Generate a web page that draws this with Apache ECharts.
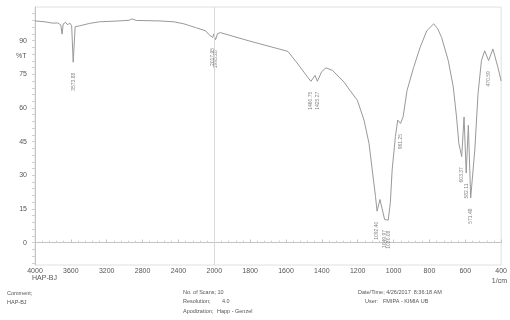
<!DOCTYPE html>
<html>
<head>
<meta charset="utf-8">
<script src="https://cdn.jsdelivr.net/npm/echarts@6/dist/echarts.min.js"></script>
<style>
  html, body { margin: 0; padding: 0; background: #fff; }
  #chart { width: 510px; height: 320px; }
</style>
</head>
<body>
<div id="chart"></div>
<script>
// FTIR spectrum HAP-BJ
const wavenumber = [4000, 3889, 3801, 3746, 3712, 3698, 3685, 3657, 3635, 3613,
  3591, 3574, 3552, 3502, 3391, 3281, 3060, 2949, 2916, 2871,
  2617, 2451, 2340, 2208, 2097, 2064, 2018, 2005, 1993, 1982,
  1967, 1811, 1589, 1534, 1479, 1461, 1438, 1425, 1401, 1377,
  1340, 1276, 1257, 1202, 1165, 1137, 1119, 1101, 1092, 1076,
  1050, 1041, 1030, 1018, 1008, 990, 977, 966, 961, 947,
  925, 888, 852, 815, 776, 754, 732, 695, 667, 649,
  636, 620, 607, 595, 583, 570, 547, 529, 510, 492,
  483, 470, 446, 418, 400];
const transmittance = [98.8, 98.4, 97.8, 97.9, 97.0, 92.9, 97.5, 98.1, 97.0, 97.9,
  96.6, 80.4, 96.2, 96.6, 97.7, 98.4, 98.8, 99.1, 99.7, 99.0,
  98.8, 98.4, 97.5, 95.8, 94.4, 92.9, 91.4, 93.0, 90.4, 93.1,
  93.6, 90.0, 85.2, 79.6, 73.7, 71.9, 74.5, 71.9, 76.2, 77.9,
  76.7, 71.5, 69.3, 63.4, 54.6, 44.2, 32.4, 20.6, 14.0, 19.2,
  10.3, 11.0, 10.0, 17.8, 32.4, 47.2, 54.6, 55.3, 53.1, 56.0,
  67.8, 78.1, 87.0, 94.4, 97.5, 95.3, 91.4, 81.1, 69.3, 56.0,
  44.2, 38.3, 56.0, 31.0, 52.3, 19.9, 41.3, 66.4, 81.1, 85.5,
  86.3, 81.1, 86.3, 78.1, 72.0];

const peakWn = [3574, 2018, 1993, 1461, 1425, 1092, 1050, 1030, 961, 620, 595, 570, 470];
const peakT = [80.4, 91.4, 90.4, 71.9, 71.9, 14.0, 10.3, 10.0, 53.1, 38.3, 31.0, 19.9, 81.1];
const peakText = ["3573.88", "2017.95", "1993.28", "1460.75", "1425.27", "1092.40", "1049.97",
  "1030.08", "961.25", "603.37", "582.11", "571.48", "470.59"];

const xTickLabels = [4000, 3600, 3200, 2800, 2400, 2000, 1800, 1600, 1400, 1200, 1000, 800, 600, 400];
const yTickLabels = [0, 15, 30, 45, 60, 75, 90];
const yMinorTicks = [-9, -6, -3, 0, 3, 6, 9, 12, 15, 18, 21, 24, 27, 30, 33, 36, 39, 42, 45, 48, 51,
  54, 57, 60, 63, 66, 69, 72, 75, 78, 81, 84, 87, 90, 93, 96, 99, 102];

// axis is split at 2000 1/cm: 400 per step above, 200 per step below
function toX(w) {
  return w >= 2000 ? (4000 - w) / 400 : 5 + (2000 - w) / 200;
}

const FONT = "Liberation Sans, Arial, sans-serif";
const TXT = "#555";

const chart = echarts.init(document.getElementById("chart"));

function note(left, top, text, size) {
  return { type: "text", left, top, style: { text, fontSize: size || 5.5, fontFamily: FONT, fill: TXT } };
}

chart.setOption({
  animation: false,
  backgroundColor: "#fff",
  grid: { left: 35, right: 4, top: 7, bottom: 55, show: true, borderColor: "#e0e0e0", borderWidth: 1 },
  xAxis: {
    type: "value",
    min: 0,
    max: 13,
    interval: 1,
    axisLine: { show: true, lineStyle: { color: "#c4c4c4", width: 1 } },
    axisTick: { show: true, inside: true, length: 3, lineStyle: { color: "#c4c4c4" } },
    minorTick: { show: true, splitNumber: 5, length: 2, lineStyle: { color: "#d0d0d0" } },
    splitLine: { show: false },
    axisLabel: {
      margin: 3,
      fontSize: 7,
      fontFamily: FONT,
      color: TXT,
      formatter: (v) => String(xTickLabels[Math.round(v)] ?? ""),
    },
  },
  yAxis: {
    type: "value",
    min: -10,
    max: 105,
    axisLine: { show: true, lineStyle: { color: "#c4c4c4", width: 1 } },
    axisTick: { show: true, length: 3, customValues: yMinorTicks, lineStyle: { color: "#d0d0d0" } },
    splitLine: { show: false },
    axisLabel: {
      customValues: yTickLabels,
      margin: 8,
      fontSize: 7,
      fontFamily: FONT,
      color: TXT,
    },
  },
  series: [
    {
      type: "line",
      data: wavenumber.map((w, i) => [toX(w), transmittance[i]]),
      showSymbol: false,
      lineStyle: { color: "#999", width: 1 },
      silent: true,
      markLine: {
        silent: true,
        symbol: "none",
        label: { show: false },
        lineStyle: { color: "#d8d8d8", width: 1, type: "solid" },
        data: [{ xAxis: toX(2000) }],
      },
    },
    {
      type: "scatter",
      data: peakWn.map((w, i) => [toX(w), peakT[i]]),
      symbolSize: 1,
      itemStyle: { color: "rgba(0,0,0,0)" },
      silent: true,
      label: {
        show: true,
        position: "bottom",
        distance: 10,
        rotate: 90,
        align: "right",
        verticalAlign: "middle",
        fontSize: 5,
        fontFamily: FONT,
        color: "#666",
        formatter: (p) => peakText[p.dataIndex],
      },
    },
  ],
  graphic: [
    note(16, 53, "%T", 7),
    note(32, 275, "HAP-BJ", 7),
    { type: "text", right: 3, top: 278, style: { text: "1/cm", fontSize: 7, fontFamily: FONT, fill: TXT } },
    note(7, 290, "Comment;"),
    note(7, 299, "HAP-BJ"),
    note(183, 289, "No. of Scans; 10"),
    note(183, 298, "Resolution;"),
    note(222, 298, "4.0"),
    note(183, 308, "Apodization;"),
    note(217, 308, "Happ - Genzel"),
    note(358, 289, "Date/Time; 4/26/2017  8:36:18 AM"),
    note(365, 298, "User:"),
    note(383, 298, "FMIPA - KIMIA UB"),
  ],
});
</script>
</body>
</html>
